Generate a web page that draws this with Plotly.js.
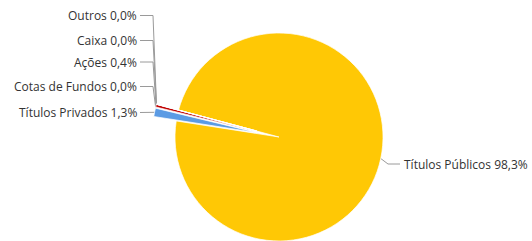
<!DOCTYPE html>
<html><head><meta charset="utf-8">
<script src="https://cdn.plot.ly/plotly-3.0.1.min.js"></script>
<style>html,body{margin:0;padding:0;overflow:hidden;background:#fff}#chart{width:532px;height:270px}</style>
</head><body><div id="chart"></div>
<script>
// ---- data ----
const categories = ['Títulos Públicos', 'Títulos Privados', 'Cotas de Fundos', 'Ações', 'Caixa', 'Outros'];
const values = [98.3, 1.3, 0.0, 0.4, 0.0, 0.0];
const valueLabels = ['98,3%', '1,3%', '0,0%', '0,4%', '0,0%', '0,0%'];

// ---- styles / layout ----
const colors = ['#FFC805', '#5B9BE4', '#9A9A9A', '#C00000', '#606060', '#303030'];
const pulls = [0, 0.22, 0.22, 0.22, 0.22, 0.22];
const W = 532, H = 270, CX = 279, CY = 137, R = 104, ROT = 285;
const labelY = {'Títulos Públicos': 164, 'Títulos Privados': 112.5, 'Cotas de Fundos': 86.5, 'Ações': 62, 'Caixa': 40.5, 'Outros': 15.5};
const LEFT_TEXT_END = 138, LEFT_LINE_START = 140, LEFT_BEND = 153;
const RIGHT_BEND_X = 388, RIGHT_LINE_END = 400, RIGHT_TEXT_START = 403;
const FONT = {family: 'Open Sans', size: 12, color: '#333'};

const maxPull = Math.max(...pulls);
const half = R * (1 + maxPull);
const total = values.reduce((a, b) => a + b, 0);

// edge points computed from values
let cum = 0;
const edge = values.map((v, i) => {
  const a0 = ROT + cum / total * 360;
  cum += v;
  const a1 = ROT + cum / total * 360;
  const am = (a0 + a1) / 2 * Math.PI / 180;
  const rr = R * (1 + pulls[i]);
  return [CX + rr * Math.sin(am), CY - rr * Math.cos(am)];
});

const lx = [], ly = [];
const annotations = [];
categories.forEach((c, i) => {
  const y = labelY[c];
  const [ex, ey] = edge[i];
  const text = c + ' ' + valueLabels[i];
  if (ex < CX) {
    lx.push(LEFT_LINE_START, LEFT_BEND, ex, null);
    ly.push(y, y, ey, null);
    annotations.push({x: LEFT_TEXT_END, y: y, xref: 'x', yref: 'y', text: text, showarrow: false,
      xanchor: 'right', yanchor: 'middle', borderpad: 0, font: FONT});
  } else {
    lx.push(ex, RIGHT_BEND_X, RIGHT_LINE_END, null);
    ly.push(ey, y, y, null);
    annotations.push({x: RIGHT_TEXT_START, y: y, xref: 'x', yref: 'y', text: text, showarrow: false,
      xanchor: 'left', yanchor: 'middle', borderpad: 0, font: FONT});
  }
});

const pie = {
  type: 'pie',
  labels: categories,
  values: values,
  sort: false,
  direction: 'clockwise',
  rotation: ROT,
  pull: pulls,
  textinfo: 'none',
  hoverinfo: 'label+percent',
  marker: {colors: colors, line: {color: '#ffffff', width: 0.7}},
  domain: {x: [(CX - half) / W, (CX + half) / W], y: [1 - (CY + half) / H, 1 - (CY - half) / H]},
  showlegend: false
};

const connectors = {
  type: 'scatter', mode: 'lines', x: lx, y: ly,
  line: {color: '#9a9a9a', width: 1}, hoverinfo: 'skip', showlegend: false, cliponaxis: false
};

const layout = {
  width: W, height: H,
  margin: {l: 0, r: 0, t: 0, b: 0},
  paper_bgcolor: '#fff', plot_bgcolor: 'rgba(0,0,0,0)',
  xaxis: {range: [0, W], visible: false, fixedrange: true},
  yaxis: {range: [H, 0], visible: false, fixedrange: true},
  annotations: annotations,
  showlegend: false
};

Plotly.newPlot('chart', [pie, connectors], layout, {displayModeBar: false, staticPlot: true});
</script>
</body></html>
